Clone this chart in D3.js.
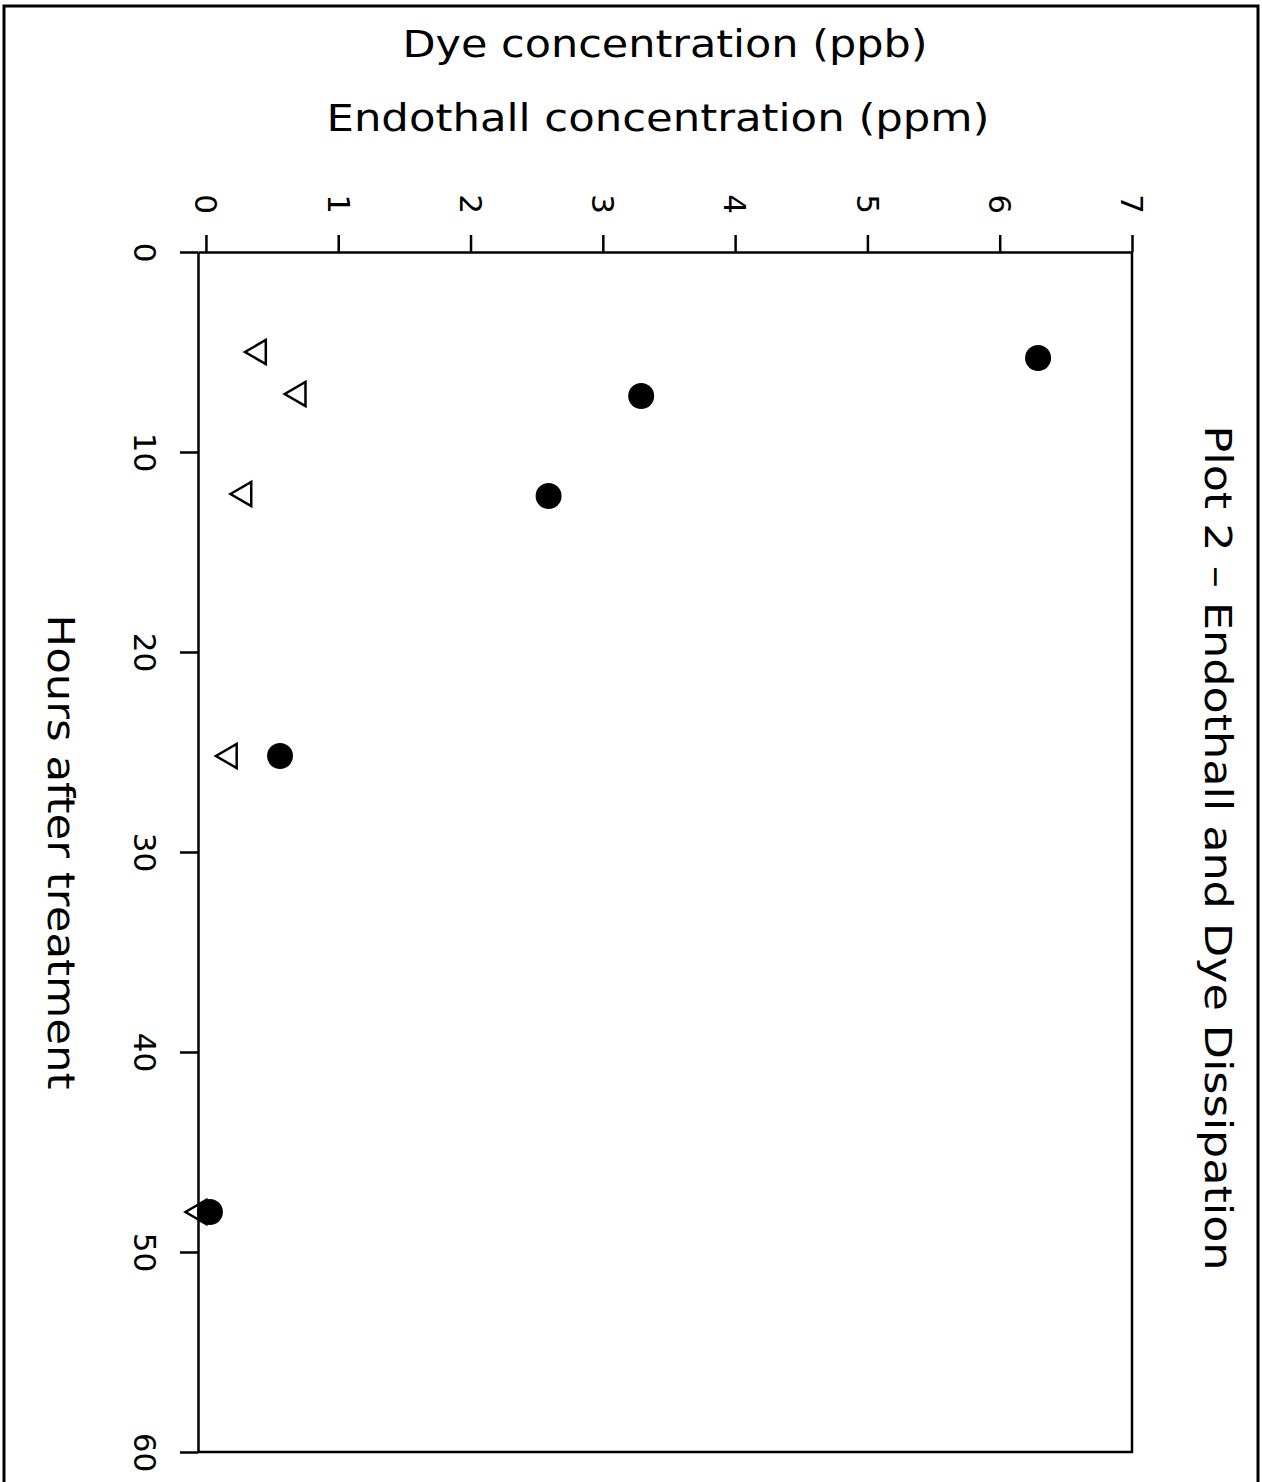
<!DOCTYPE html>
<html>
<head>
<meta charset="utf-8">
<script src="https://cdn.jsdelivr.net/npm/d3@7"></script>
<style>
  html, body { margin: 0; padding: 0; background: #fff; }
  svg { display: block; }
  text { font-family: "DejaVu Sans", sans-serif; fill: #000; }
</style>
</head>
<body>
<div id="chart"></div>
<script>
// Plot 2 - endothall and dye dissipation (page printed sideways)
const titleText = "Plot 2 \u2013 Endothall and Dye Dissipation";
const concLabels = ["Dye concentration (ppb)", "Endothall concentration (ppm)"];
const hoursLabel = "Hours after treatment";

const concTicks = [0, 1, 2, 3, 4, 5, 6, 7];
const hourTicks = [0, 10, 20, 30, 40, 50, 60];

// filled circles
const endothallHours = [5.3, 7.2, 12.2, 25.2, 48.0];
const endothallConc = [6.29, 3.29, 2.59, 0.56, 0.03];

// open triangles
const dyeHours = [5.0, 7.1, 12.1, 25.2, 48.0];
const dyeConc = [0.40, 0.70, 0.29, 0.18, -0.05];

const width = 1262;
const height = 1482;

const svg = d3.select("#chart").append("svg")
    .attr("width", width)
    .attr("height", height);

// outer page frame
svg.append("rect")
    .attr("x", 4).attr("y", 6)
    .attr("width", 1254).attr("height", 1500)
    .attr("fill", "none")
    .attr("stroke", "#000")
    .attr("stroke-width", 3);

// concentration runs left -> right, hours run top -> bottom
const x = d3.scaleLinear().domain([-0.06, 7]).range([198, 1132]);
const y = d3.scaleLinear().domain([0, 60]).range([252, 1452]);

// plot box (right and bottom sides)
svg.append("path")
    .attr("d", `M${x(7)},${y(0)} V${y(60)} H${x.range()[0]}`)
    .attr("fill", "none")
    .attr("stroke", "#000")
    .attr("stroke-width", 2.5);

const concAxis = svg.append("g")
    .attr("transform", `translate(0,${y(0)})`)
    .call(d3.axisTop(x).tickValues(concTicks).tickSize(17).tickSizeOuter(0).tickFormat(d3.format("d")));

concAxis.selectAll("text")
    .attr("y", null)
    .attr("dy", "0.36em")
    .attr("text-anchor", "middle")
    .attr("transform", "translate(0,-48) rotate(90)")
    .style("font-size", "31px");

const hourAxis = svg.append("g")
    .attr("transform", `translate(${x.range()[0]},0)`)
    .call(d3.axisLeft(y).tickValues(hourTicks).tickSize(18).tickSizeOuter(0).tickFormat(d3.format("d")));

hourAxis.selectAll("text")
    .attr("x", null)
    .attr("dy", "0.36em")
    .attr("text-anchor", "middle")
    .attr("transform", "translate(-53,0) rotate(90)")
    .style("font-size", "31px");

svg.selectAll(".domain, .tick line")
    .attr("stroke", "#000")
    .attr("stroke-width", 2.5);

// axis titles
svg.append("text")
    .attr("x", 665).attr("y", 57)
    .attr("text-anchor", "middle")
    .attr("textLength", 525)
    .attr("lengthAdjust", "spacingAndGlyphs")
    .style("font-size", "37px")
    .text(concLabels[0]);

svg.append("text")
    .attr("x", 658).attr("y", 131)
    .attr("text-anchor", "middle")
    .attr("textLength", 663)
    .attr("lengthAdjust", "spacingAndGlyphs")
    .style("font-size", "37px")
    .text(concLabels[1]);

svg.append("text")
    .attr("transform", "translate(62,852) rotate(90)")
    .attr("dy", "0.36em")
    .attr("text-anchor", "middle")
    .attr("textLength", 475)
    .attr("lengthAdjust", "spacingAndGlyphs")
    .style("font-size", "38px")
    .text(hoursLabel);

svg.append("text")
    .attr("transform", "translate(1218,848) rotate(90)")
    .attr("dy", "0.36em")
    .attr("text-anchor", "middle")
    .attr("textLength", 845)
    .attr("lengthAdjust", "spacingAndGlyphs")
    .style("font-size", "37px")
    .text(titleText);

// triangles first, circles on top
const tri = d3.symbol().type(d3.symbolTriangle).size(250);

svg.append("g")
    .selectAll("path")
    .data(dyeHours.map((h, i) => ({ h, c: dyeConc[i] })))
    .join("path")
    .attr("d", tri)
    .attr("transform", d => `translate(${x(d.c)},${y(d.h)}) rotate(-90)`)
    .attr("fill", "none")
    .attr("stroke", "#000")
    .attr("stroke-width", 2.5);

svg.append("g")
    .selectAll("circle")
    .data(endothallHours.map((h, i) => ({ h, c: endothallConc[i] })))
    .join("circle")
    .attr("cx", d => x(d.c))
    .attr("cy", d => y(d.h))
    .attr("r", 13)
    .attr("fill", "#000");
</script>
</body>
</html>
